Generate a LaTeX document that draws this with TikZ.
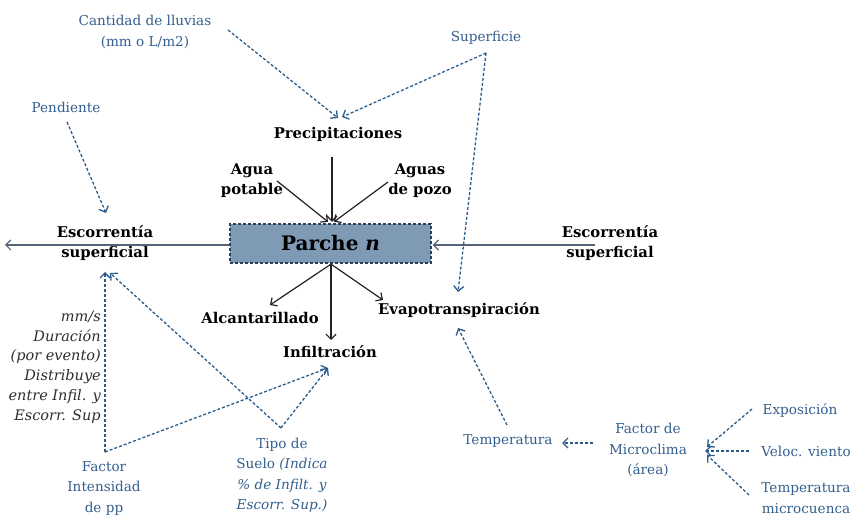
\documentclass[tikz,border=0pt]{standalone}
\usepackage{fontspec}
\setmainfont{DejaVu Serif}
\usetikzlibrary{arrows.meta,calc}
\definecolor{linkblue}{HTML}{2A5C8C}
\definecolor{textblue}{HTML}{325F8E}
\definecolor{boxfill}{HTML}{7F9AB4}
\definecolor{boxedge}{HTML}{2B3F55}
\definecolor{flowgray}{HTML}{222222}
\definecolor{notegray}{HTML}{2E2E2E}
\begin{document}
\begin{tikzpicture}[x=1pt,y=-1pt,
  flow/.style={draw=flowgray,line width=1.2pt,-{Straight Barb[length=5pt,width=10pt]}},
  infl/.style={draw=linkblue,line width=1.3pt,dash pattern=on 3pt off 2pt,-{Straight Barb[length=5pt,width=10pt]}},
  main/.style={font=\fontsize{14.8}{20}\selectfont\bfseries,text=black,align=center,inner sep=0pt},
  factor/.style={font=\fontsize{13.6}{20.5}\selectfont,text=textblue,align=center,inner sep=0pt},
  note/.style={font=\fontsize{14.5}{19.7}\selectfont\itshape,text=notegray,align=right,inner sep=0pt},
  patch/.style={draw=boxedge,line width=1.3pt,dash pattern=on 3pt off 2pt,fill=boxfill,minimum width=201pt,minimum height=39pt,
    font=\fontsize{20}{22}\selectfont\bfseries,inner sep=0pt}]
\useasboundingbox (0,0) rectangle (858,518);

% central patch and water flows
\node[patch] (parche) at (330.5,243.5) {Parche \textit{n}};
\node[main] (prec) at (338,134) {Precipitaciones};
\node[main] (agua) at (252,181) {Agua\\potable};
\node[main] (pozo) at (420,181) {Aguas\\de pozo};
\node[main] (escL) at (105,243) {Escorrentía\\superficial};
\node[main] (escR) at (610,243) {Escorrentía\\superficial};
\node[main] (alc) at (260,318) {Alcantarillado};
\node[main] (inf) at (330,352) {Infiltración};
\node[main] (evap) at (459,310) {Evapotranspiración};

% influencing factors
\node[factor] (lluvias) at (145,32) {Cantidad de lluvias\\(mm o L/m2)};
\node[factor] (superf) at (486,38) {Superficie};
\node[factor] (pend) at (66,107) {Pendiente};
\node[note,anchor=east] (nota) at (101,367) {mm/s\\Duración\\(por evento)\\Distribuye\\entre Infil. y\\Escorr. Sup};
\node[factor] (fip) at (104,488) {Factor\\Intensidad\\de pp};
\node[factor] (suelo) at (282,475) {Tipo de\\Suelo \textit{(Indica}\\\textit{\% de Infilt. y}\\\textit{Escorr. Sup.)}};
\node[factor] (temp) at (508,441) {Temperatura};
\node[factor] (micro) at (648,450) {Factor de\\Microclima\\(área)};
\node[factor] (expo) at (800,410) {Exposición};
\node[factor] (velo) at (806,451) {Veloc. viento};
\node[factor] (tmc) at (806,498) {Temperatura\\microcuenca};

% solid flows into and out of the patch
\draw[flow] ($(prec)+(-6,23)$) -- ($(parche.north)+(1.5,-1.5)$);
\draw[flow] ($(agua)+(25,0)$) -- ($(parche.north)+(-2.5,-1.5)$);
\draw[flow] ($(pozo)+(-32,1)$) -- ($(parche.north)+(3.5,-1.5)$);
\draw[flow,draw=boxedge!80] (parche.west |- 0,245) -- ($(escL)+(-100,2)$);
\draw[flow,draw=boxedge!80] ($(escR)+(-15,2)$) -- ($(parche.east |- 0,245)+(1,0)$);
\draw[flow] ($(parche.south)+(0.5,0.5)$) -- ($(alc)+(10,-13)$);
\draw[flow] ($(parche.south)+(0.5,0.5)$) -- ($(inf)+(1,-12)$);
\draw[flow] ($(parche.south)+(0.5,0.5)$) -- ($(evap)+(-76,-10)$);

% dashed influences
\draw[infl] ($(lluvias)+(83,-2)$) -- ($(prec)+(0,-16)$);
\draw[infl] ($(superf)+(0,15)$) -- ($(prec)+(4,-17)$);
\draw[infl] ($(superf)+(0,15)$) -- ($(evap)+(-1,-18)$);
\draw[infl] ($(pend)+(1,15)$) -- ($(escL)+(1,-30)$);
\draw[infl] ($(fip)+(1,-36)$) -- ($(escL)+(0,29)$);
\draw[infl] ($(suelo)+(-1,-47)$) -- ($(escL)+(5,30)$);
\draw[infl] ($(suelo)+(-1,-47)$) -- ($(inf)+(-2,16)$);
\draw[infl] ($(fip)+(1,-36)$) -- ($(inf)+(-2,16)$);
\draw[infl] ($(temp)+(-1,-16)$) -- ($(evap)+(-1,18)$);
\draw[infl] ($(micro)+(-55,-7)$) -- ($(temp)+(54,2)$);
\draw[infl] ($(expo)+(-48,-1)$) -- ($(micro)+(59,-3)$);
\draw[infl] ($(velo)+(-57,0)$) -- ($(micro)+(57,1)$);
\draw[infl] ($(tmc)+(-57,-3)$) -- ($(micro)+(59,5)$);
\end{tikzpicture}
\end{document}
